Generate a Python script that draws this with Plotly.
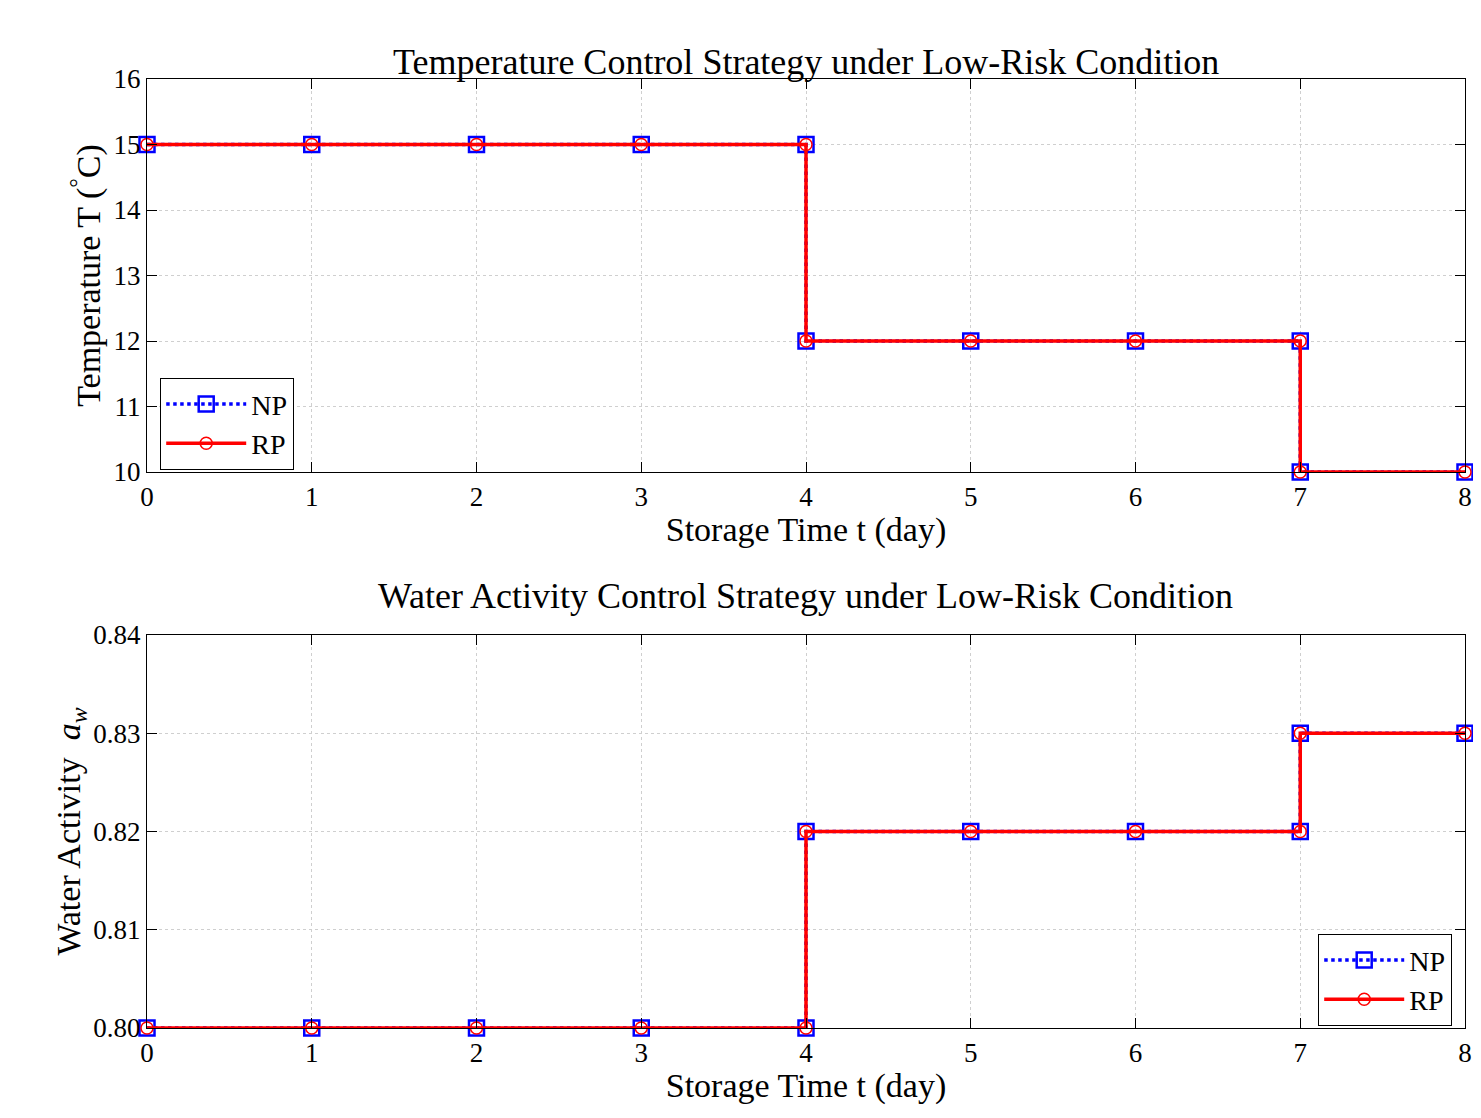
import plotly.graph_objects as go
from plotly.subplots import make_subplots

days = [0, 1, 2, 3, 4, 4, 5, 6, 7, 7, 8]
temp_np = [15, 15, 15, 15, 15, 12, 12, 12, 12, 10, 10]
temp_rp = [15, 15, 15, 15, 15, 12, 12, 12, 12, 10, 10]
aw_np = [0.80, 0.80, 0.80, 0.80, 0.80, 0.82, 0.82, 0.82, 0.82, 0.83, 0.83]
aw_rp = [0.80, 0.80, 0.80, 0.80, 0.80, 0.82, 0.82, 0.82, 0.82, 0.83, 0.83]

FONT = "Liberation Serif"
W, H = 1481, 1118

fig = make_subplots(rows=2, cols=1)

for row, ynp, yrp in [(1, temp_np, temp_rp), (2, aw_np, aw_rp)]:
    fig.add_trace(go.Scatter(x=days, y=ynp, mode="lines+markers", name="NP", cliponaxis=False,
                             line=dict(color="blue", width=3.5, dash="dot"),
                             marker=dict(symbol="square-open", size=15, color="blue", line=dict(width=2.5)),
                             legend="legend" if row == 1 else "legend2"), row=row, col=1)
    fig.add_trace(go.Scatter(x=days, y=yrp, mode="lines+markers", name="RP", cliponaxis=False,
                             line=dict(color="red", width=3.5),
                             marker=dict(symbol="circle-open", size=12, color="red", line=dict(width=1.5)),
                             legend="legend" if row == 1 else "legend2"), row=row, col=1)

x0, x1 = 139 / W, 1457 / W
ax = dict(showline=True, linecolor="black", linewidth=1.2, mirror="ticks", ticks="inside",
          ticklen=10, tickcolor="black", showgrid=True, gridcolor="#cfcfcf", griddash="dot",
          gridwidth=1, zeroline=False, automargin=False,
          tickfont=dict(size=27, family=FONT, color="black"))
fig.update_xaxes(**ax, range=[0, 8], dtick=1, domain=[x0, x1])
fig.update_xaxes(title=dict(text="Storage Time t (day)", font=dict(size=34, family=FONT), standoff=4))
fig.update_yaxes(**ax)
fig.update_yaxes(range=[10, 16], dtick=1, domain=[1 - 464 / H, 1 - 71 / H], row=1, col=1,
                 title=dict(text="Temperature T (<sup>°</sup>C)", font=dict(size=34, family=FONT), standoff=2))
fig.update_yaxes(range=[0.80, 0.84], dtick=0.01, tickformat=".2f", domain=[1 - 1020 / H, 1 - 627 / H],
                 row=2, col=1,
                 title=dict(text="Water Activity  <i>a</i><sub><i>w</i></sub>", font=dict(size=34, family=FONT), standoff=2))

leg = dict(bgcolor="white", bordercolor="black", borderwidth=1.2, itemwidth=80,
           font=dict(size=28, family=FONT, color="black"), tracegroupgap=0)
fig.update_layout(
    width=W, height=H, margin=dict(l=0, r=0, t=0, b=0, autoexpand=False),
    plot_bgcolor="white", paper_bgcolor="white",
    font=dict(family=FONT, color="black"),
    legend=dict(**leg, x=152 / W, y=1 - 370 / H, xanchor="left", yanchor="top"),
    legend2=dict(**leg, x=1444 / W, y=1 - 926 / H, xanchor="right", yanchor="top"),
    annotations=[
        dict(text="Temperature Control Strategy under Low-Risk Condition", x=(x0 + x1) / 2, y=1 - 32 / H,
             xref="paper", yref="paper", showarrow=False, font=dict(size=36, family=FONT)),
        dict(text="Water Activity Control Strategy under Low-Risk Condition", x=(x0 + x1) / 2, y=1 - 588 / H,
             xref="paper", yref="paper", showarrow=False, font=dict(size=36, family=FONT)),
    ],
)

fig.write_html("out.html")
